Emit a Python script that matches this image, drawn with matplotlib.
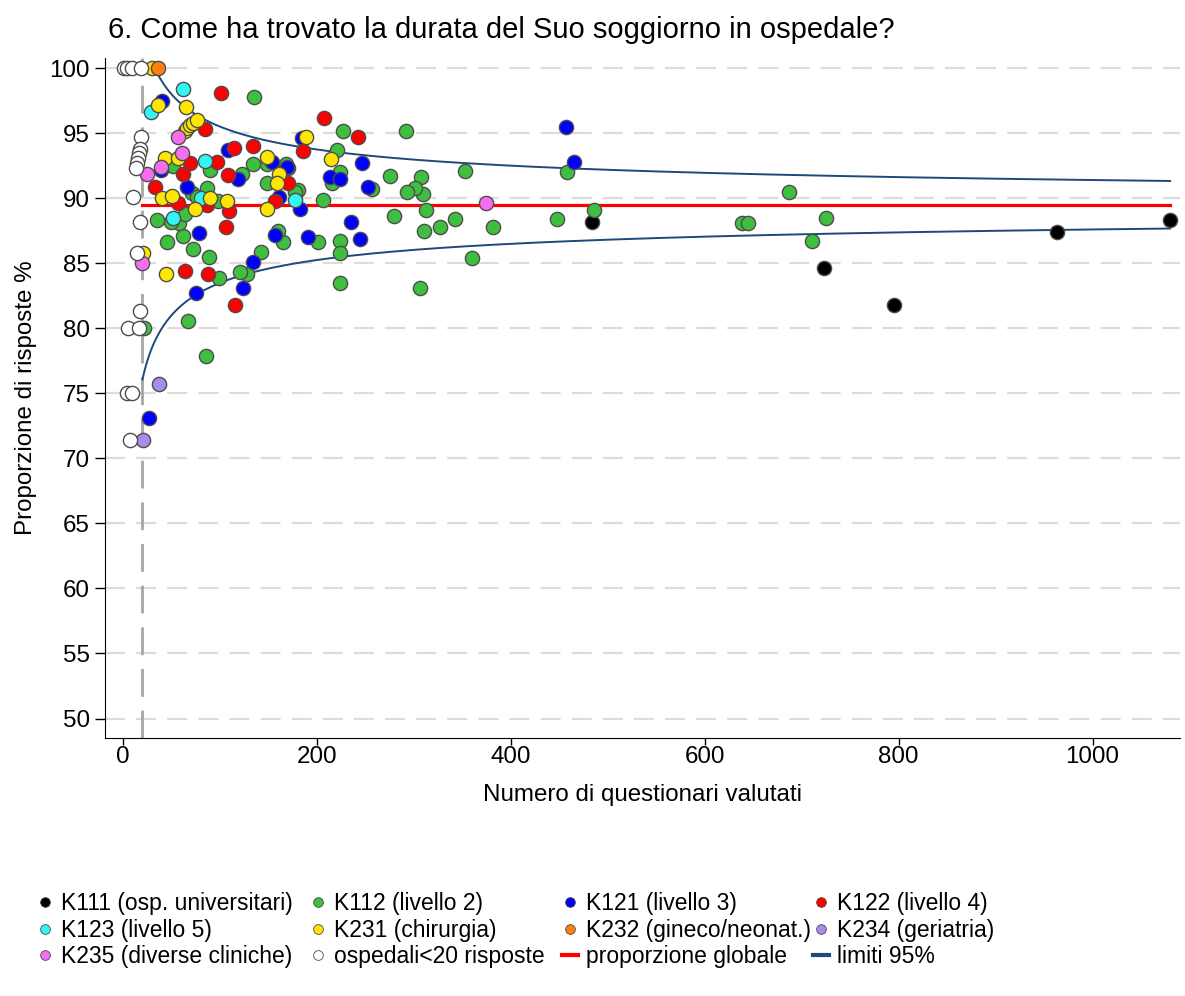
import numpy as np
import matplotlib
matplotlib.use("Agg")
import matplotlib.pyplot as plt
from matplotlib.lines import Line2D

plt.rcParams['font.family'] = ['Liberation Sans', 'DejaVu Sans']

# Data (n questionnaires, % answers)
k111_n = [484, 723, 795, 963, 1080]
k111_p = [88.2, 84.6, 81.8, 87.4, 88.3]

k112_n = [687, 638, 645, 725, 711, 486, 458, 448, 382, 360, 353, 342, 327, 313,
          310, 309, 307, 301, 293, 292, 306, 279, 275, 257, 227, 221, 224, 224,
          224, 216, 224, 206, 201, 180, 177, 170, 168, 165, 160, 148, 149, 142,
          135, 134, 128, 121, 123, 99, 89, 90, 87, 86, 72, 67, 62, 58, 50, 52,
          45, 35, 22, 64, 71, 76, 98]
k112_p = [90.5, 88.1, 88.1, 88.5, 86.7, 89.1, 92.0, 88.4, 87.8, 85.4, 92.1, 88.4,
          87.8, 89.1, 87.5, 90.3, 91.6, 90.8, 90.5, 95.2, 83.1, 88.6, 91.7, 90.7,
          95.2, 93.7, 86.7, 85.8, 83.5, 91.2, 92.0, 89.9, 86.6, 90.6, 90.5, 92.3,
          92.6, 86.6, 87.5, 91.2, 92.6, 85.9, 97.8, 92.6, 84.2, 84.3, 91.9, 83.9,
          85.5, 92.2, 90.8, 77.9, 86.1, 80.6, 87.1, 88.1, 88.2, 92.5, 86.6, 88.3,
          80.0, 88.8, 90.4, 90.1, 89.8]

k121_n = [457, 465, 246, 253, 244, 235, 213, 224, 191, 185, 183, 161, 157, 154,
          169, 134, 124, 119, 108, 78, 75, 66, 40, 39, 27]
k121_p = [95.5, 92.8, 92.7, 90.9, 86.9, 88.2, 91.6, 91.5, 87.0, 94.6, 89.2, 90.1,
          87.2, 92.8, 92.4, 85.1, 83.1, 91.5, 93.7, 87.3, 82.7, 90.9, 97.5, 92.2,
          73.1]

k122_n = [207, 242, 186, 134, 114, 101, 97, 85, 69, 62, 108, 109, 106, 57, 33,
          64, 88, 115, 170, 157, 87]
k122_p = [96.2, 94.7, 93.6, 94.0, 93.9, 98.1, 92.8, 95.3, 92.7, 91.9, 91.8, 89.0,
          87.8, 89.6, 90.9, 84.4, 84.2, 81.8, 91.2, 89.8, 89.5]

k123_n = [62, 29, 85, 80, 52, 177]
k123_p = [98.4, 96.6, 92.9, 90.0, 88.5, 89.9]

k231_n = [30, 36, 64, 66, 69, 72, 76, 65, 43, 57, 40, 51, 90, 107, 74, 44, 21,
          148, 161, 159, 148, 189, 215]
k231_p = [100.0, 97.2, 95.2, 95.4, 95.6, 95.8, 96.0, 97.0, 93.1, 93.1, 90.0, 90.2,
          90.0, 89.8, 89.2, 84.2, 85.8, 93.2, 91.9, 91.2, 89.2, 94.7, 93.0]

k232_n = [36]
k232_p = [100.0]

k234_n = [37, 21]
k234_p = [75.7, 71.4]

k235_n = [25, 39, 61, 57, 20, 374]
k235_p = [91.9, 92.4, 93.5, 94.7, 85.0, 89.6]

small_n = [1, 4, 9, 19, 19, 17, 16, 15, 14, 13, 10, 18, 14, 17, 5, 16, 4, 9, 7]
small_p = [100.0, 100.0, 100.0, 100.0, 94.7, 93.8, 93.5, 93.1, 92.7, 92.3, 90.1,
           88.2, 85.8, 81.3, 80.0, 80.0, 75.0, 75.0, 71.4]

p_global = 89.5
n_min, n_max = 20, 1080

groups = [
    ("K111 (osp. universitari)", k111_n, k111_p, "#000000"),
    ("K112 (livello 2)", k112_n, k112_p, "#3fbf3f"),
    ("K121 (livello 3)", k121_n, k121_p, "#0000ff"),
    ("K122 (livello 4)", k122_n, k122_p, "#ff0000"),
    ("K123 (livello 5)", k123_n, k123_p, "#33f5f5"),
    ("K231 (chirurgia)", k231_n, k231_p, "#ffe600"),
    ("K232 (gineco/neonat.)", k232_n, k232_p, "#ff7f0e"),
    ("K234 (geriatria)", k234_n, k234_p, "#a98bec"),
    ("K235 (diverse cliniche)", k235_n, k235_p, "#f66ef0"),
    ("ospedali<20 risposte", small_n, small_p, "#ffffff"),
]

FS = 17.4
LEG_FS = 16.5

fig = plt.figure(figsize=(11.85, 9.96), dpi=100)
ax = fig.add_axes([0.0886, 0.259, 0.907, 0.683])

# grid
for v in range(50, 101, 5):
    ax.axhline(v, color="#dcdcdc", lw=1.6, dashes=(9, 5), zorder=0)
ax.axvline(20, color="#a6a6a6", lw=2, dashes=(10, 5), zorder=1)

# funnel limits
p = p_global / 100
nn = np.linspace(n_min, n_max, 600)
se = 1.96 * np.sqrt(p * (1 - p) / nn) * 100
upper = p_global + se
lower = p_global - se
upper = np.where(upper <= 100, upper, np.nan)
ax.plot(nn, upper, color="#1c4a7a", lw=1.4, zorder=2)
ax.plot(nn, lower, color="#1c4a7a", lw=1.4, zorder=2)
ax.plot([n_min, n_max], [p_global, p_global], color="#ff0000", lw=2.3, zorder=2)

handles = []
for label, xs, ys, col in groups:
    ax.scatter(xs, ys, s=105, c=col, edgecolors="#4d4d4d", linewidths=1.0, zorder=3)
    handles.append(Line2D([], [], ls="", marker="o", ms=7, mfc=col,
                          mec="#4d4d4d", mew=0.6, label=label))
handles.append(Line2D([], [], color="#ff0000", lw=3, label="proporzione globale"))
handles.append(Line2D([], [], color="#1c4a7a", lw=3, label="limiti 95%"))

ax.set_xlim(-18.6, 1090)
ax.set_ylim(48.5, 100.8)
ax.set_xticks([0, 200, 400, 600, 800, 1000])
ax.set_yticks(range(50, 101, 5))
ax.tick_params(axis="x", labelsize=FS, length=5, width=1, direction="out", pad=0.5)
ax.tick_params(axis="y", labelsize=FS, length=7, width=1, direction="out", pad=4)
for s in ["top", "right"]:
    ax.spines[s].set_visible(False)

ax.set_xlabel("Numero di questionari valutati", fontsize=FS, labelpad=12)
ax.set_ylabel("Proporzione di risposte %", fontsize=FS, labelpad=9)
fig.text(0.091, 0.970, "6. Come ha trovato la durata del Suo soggiorno in ospedale?",
         fontsize=21, va="center", ha="left")

# legend: one block per column, placed where the reference has them
order = [[0, 4, 8], [1, 5, 9], [2, 6, 10], [3, 7, 11]]
col_x = [0.0315, 0.2618, 0.4745, 0.6860]
for idx, cx in zip(order, col_x):
    fig.legend([handles[i] for i in idx], [handles[i].get_label() for i in idx],
               loc="upper left", bbox_to_anchor=(cx, 0.1045),
               frameon=False, fontsize=LEG_FS, handlelength=0.7, handletextpad=0.35,
               labelspacing=0.16, borderaxespad=0, borderpad=0)

fig.savefig("out.png", dpi=100)
